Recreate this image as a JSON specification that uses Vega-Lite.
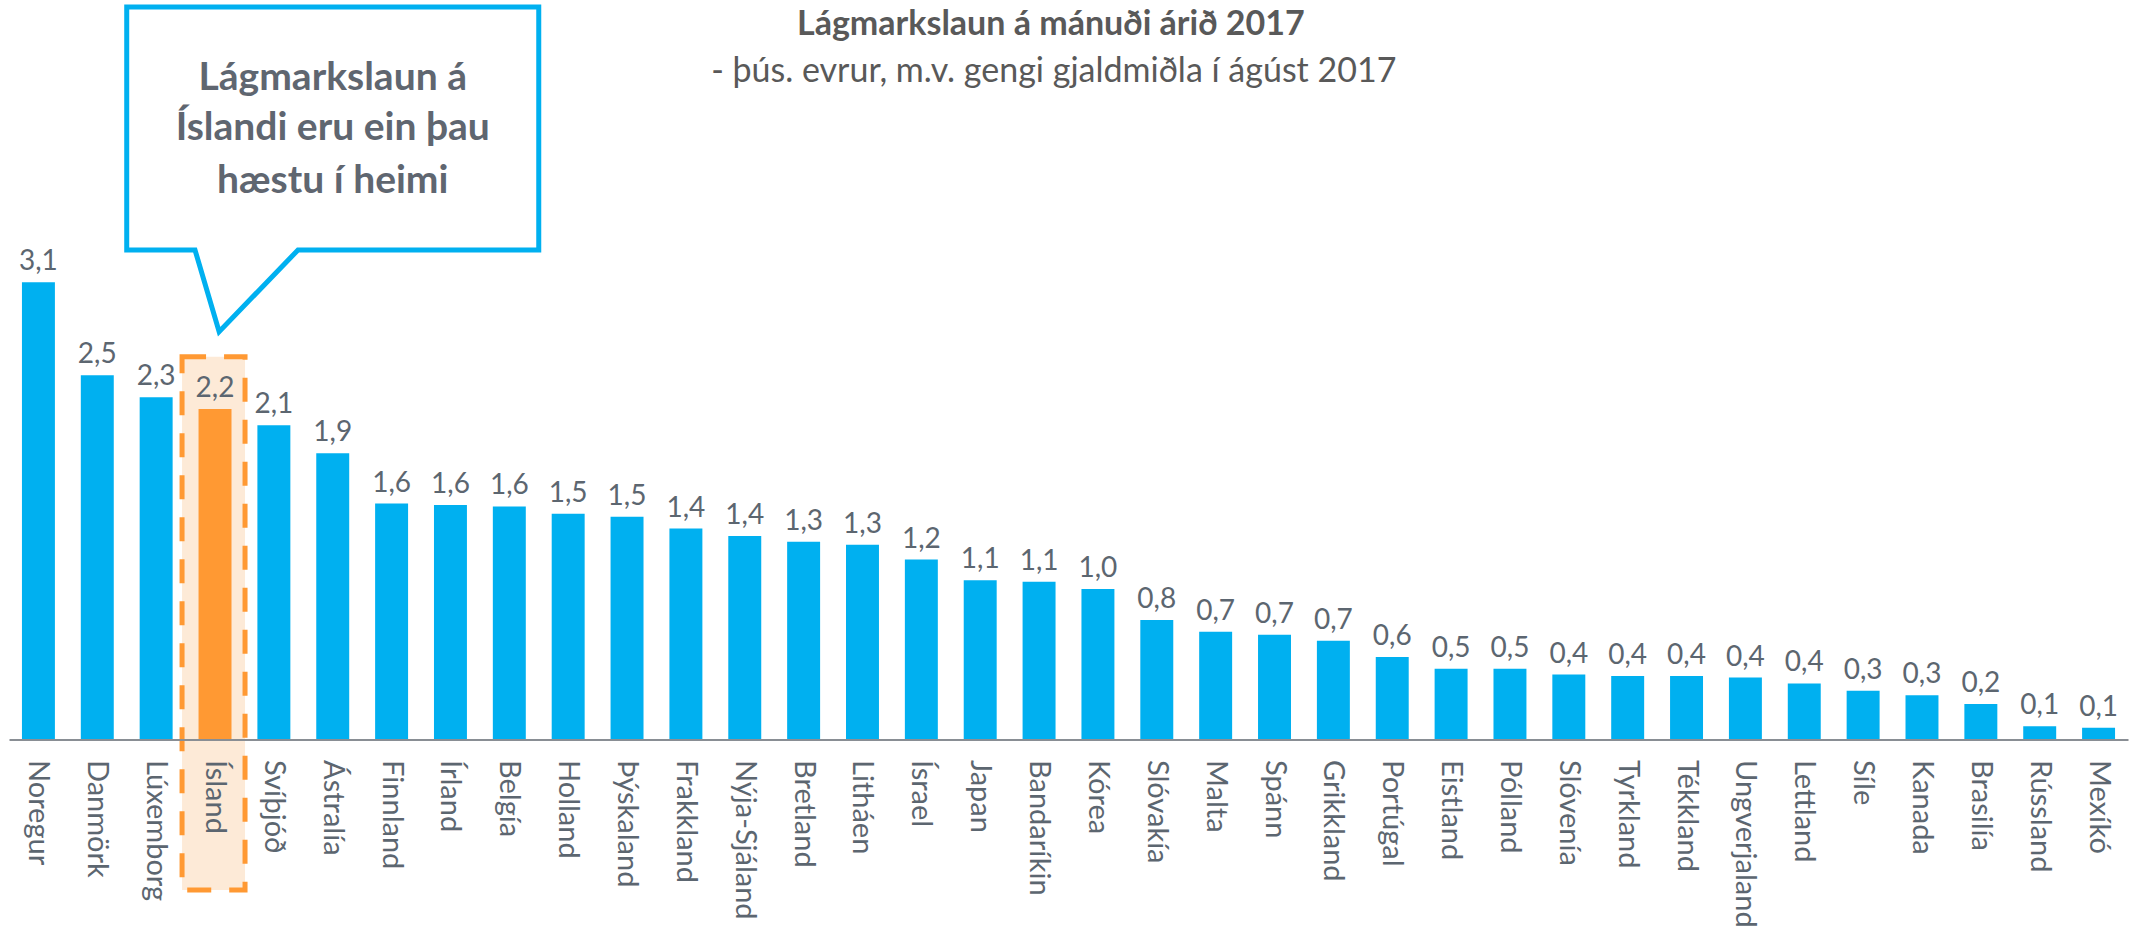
{
  "$schema": "https://vega.github.io/schema/vega-lite/v6.json",
  "width": 2119,
  "height": 737.5,
  "autosize": {"type": "none"},
  "padding": {"left": 9, "top": 2, "right": 13, "bottom": 194.5},
  "background": "white",
  "config": {
    "view": {"stroke": null},
    "font": "Lato",
    "locale": {"number": {"decimal": ",", "thousands": ".", "grouping": [3], "currency": ["", " kr."]}}
  },
  "datasets": {
    "laun": [
      {"land": "Noregur", "laun": 3.10},
      {"land": "Danmörk", "laun": 2.47},
      {"land": "Lúxemborg", "laun": 2.32},
      {"land": "Ísland", "laun": 2.24},
      {"land": "Svíþjóð", "laun": 2.13},
      {"land": "Ástralía", "laun": 1.94},
      {"land": "Finnland", "laun": 1.60},
      {"land": "Írland", "laun": 1.59},
      {"land": "Belgía", "laun": 1.58},
      {"land": "Holland", "laun": 1.53},
      {"land": "Þýskaland", "laun": 1.51},
      {"land": "Frakkland", "laun": 1.43},
      {"land": "Nýja-Sjáland", "laun": 1.38},
      {"land": "Bretland", "laun": 1.34},
      {"land": "Litháen", "laun": 1.32},
      {"land": "Ísrael", "laun": 1.22},
      {"land": "Japan", "laun": 1.08},
      {"land": "Bandaríkin", "laun": 1.07},
      {"land": "Kórea", "laun": 1.02},
      {"land": "Slóvakía", "laun": 0.81},
      {"land": "Malta", "laun": 0.73},
      {"land": "Spánn", "laun": 0.71},
      {"land": "Grikkland", "laun": 0.67},
      {"land": "Portúgal", "laun": 0.56},
      {"land": "Eistland", "laun": 0.48},
      {"land": "Pólland", "laun": 0.48},
      {"land": "Slóvenía", "laun": 0.44},
      {"land": "Tyrkland", "laun": 0.43},
      {"land": "Tékkland", "laun": 0.43},
      {"land": "Ungverjaland", "laun": 0.42},
      {"land": "Lettland", "laun": 0.38},
      {"land": "Síle", "laun": 0.33},
      {"land": "Kanada", "laun": 0.30},
      {"land": "Brasilía", "laun": 0.24},
      {"land": "Rússland", "laun": 0.09},
      {"land": "Mexíkó", "laun": 0.08}
    ]
  },
  "layer": [
    {
      "data": {"values": [{"a": 2.44, "b": 3.51, "top": 2.595, "bottom": -1.02}]},
      "mark": {"type": "rect", "fill": "#FDEAD7", "stroke": "#FF9933", "strokeWidth": 5, "strokeDash": [24, 18]},
      "encoding": {
        "x": {"field": "a", "type": "quantitative", "scale": {"domain": [-0.5, 35.5], "nice": false, "zero": false}, "axis": null},
        "x2": {"field": "b"},
        "y": {"field": "top", "type": "quantitative", "scale": {"domain": [0, 5], "nice": false}, "axis": null},
        "y2": {"field": "bottom"}
      }
    },
    {
      "data": {"name": "laun"},
      "encoding": {
        "x": {
          "field": "land", "type": "nominal", "sort": null,
          "scale": {"paddingInner": 0.44, "paddingOuter": 0.22},
          "axis": {
            "title": null, "labelAngle": 90, "labelAlign": "left", "labelBaseline": "middle",
            "labelFontSize": 29, "labelFont": "Lato", "labelColor": "#5C6670",
            "ticks": false, "labelPadding": 20, "domainColor": "#898E94", "domainWidth": 2,
            "zindex": 1, "labelOverlap": false, "labelLimit": 400
          }
        },
        "y": {"field": "laun", "type": "quantitative", "scale": {"domain": [0, 5], "nice": false}, "axis": null}
      },
      "layer": [
        {
          "mark": {"type": "bar"},
          "encoding": {
            "color": {"condition": {"test": "datum.land === 'Ísland'", "value": "#FF9933"}, "value": "#00B0F0"}
          }
        },
        {
          "mark": {"type": "text", "baseline": "alphabetic", "dy": -12, "fontSize": 28, "font": "Lato", "color": "#5C6670"},
          "encoding": {"text": {"field": "laun", "type": "quantitative", "format": ".1f"}}
        }
      ]
    },
    {
      "data": {"values": [
        {"i": 1, "px": 1.5, "py": 4.966},
        {"i": 2, "px": 8.5, "py": 4.966},
        {"i": 3, "px": 8.5, "py": 3.319},
        {"i": 4, "px": 4.41, "py": 3.319},
        {"i": 5, "px": 3.07, "py": 2.765},
        {"i": 6, "px": 2.66, "py": 3.319},
        {"i": 7, "px": 1.5, "py": 3.319},
        {"i": 8, "px": 1.5, "py": 4.966}
      ]},
      "mark": {"type": "line", "stroke": "#00B0F0", "strokeWidth": 5, "strokeJoin": "miter", "strokeCap": "square"},
      "encoding": {
        "x": {"field": "px", "type": "quantitative", "scale": {"domain": [-0.5, 35.5], "nice": false, "zero": false}, "axis": null},
        "y": {"field": "py", "type": "quantitative", "scale": {"domain": [0, 5], "nice": false}, "axis": null},
        "order": {"field": "i", "type": "quantitative"}
      }
    },
    {
      "data": {"values": [
        {"texti": "Lágmarkslaun á", "tx": 5.0, "ty": 4.403},
        {"texti": "Íslandi eru ein þau", "tx": 5.0, "ty": 4.064},
        {"texti": "hæstu í heimi", "tx": 5.0, "ty": 3.707}
      ]},
      "mark": {"type": "text", "font": "Lato", "fontWeight": "bold", "fontSize": 39, "align": "center", "baseline": "alphabetic", "color": "#5F6670"},
      "encoding": {
        "x": {"field": "tx", "type": "quantitative", "scale": {"domain": [-0.5, 35.5], "nice": false, "zero": false}, "axis": null},
        "y": {"field": "ty", "type": "quantitative", "scale": {"domain": [0, 5], "nice": false}, "axis": null},
        "text": {"field": "texti"}
      }
    },
    {
      "data": {"values": [{"titill": "Lágmarkslaun á mánuði árið 2017", "tx": 17.2, "ty": 4.776}]},
      "mark": {"type": "text", "font": "Lato", "fontWeight": "bold", "fontSize": 34, "align": "center", "baseline": "alphabetic", "color": "#595959"},
      "encoding": {
        "x": {"field": "tx", "type": "quantitative", "scale": {"domain": [-0.5, 35.5], "nice": false, "zero": false}, "axis": null},
        "y": {"field": "ty", "type": "quantitative", "scale": {"domain": [0, 5], "nice": false}, "axis": null},
        "text": {"field": "titill"}
      }
    },
    {
      "data": {"values": [{"titill": "- þús. evrur, m.v. gengi gjaldmiðla í ágúst 2017", "tx": 17.25, "ty": 4.458}]},
      "mark": {"type": "text", "font": "Lato", "fontSize": 34, "align": "center", "baseline": "alphabetic", "color": "#595959"},
      "encoding": {
        "x": {"field": "tx", "type": "quantitative", "scale": {"domain": [-0.5, 35.5], "nice": false, "zero": false}, "axis": null},
        "y": {"field": "ty", "type": "quantitative", "scale": {"domain": [0, 5], "nice": false}, "axis": null},
        "text": {"field": "titill"}
      }
    }
  ],
  "resolve": {"scale": {"x": "independent"}}
}
